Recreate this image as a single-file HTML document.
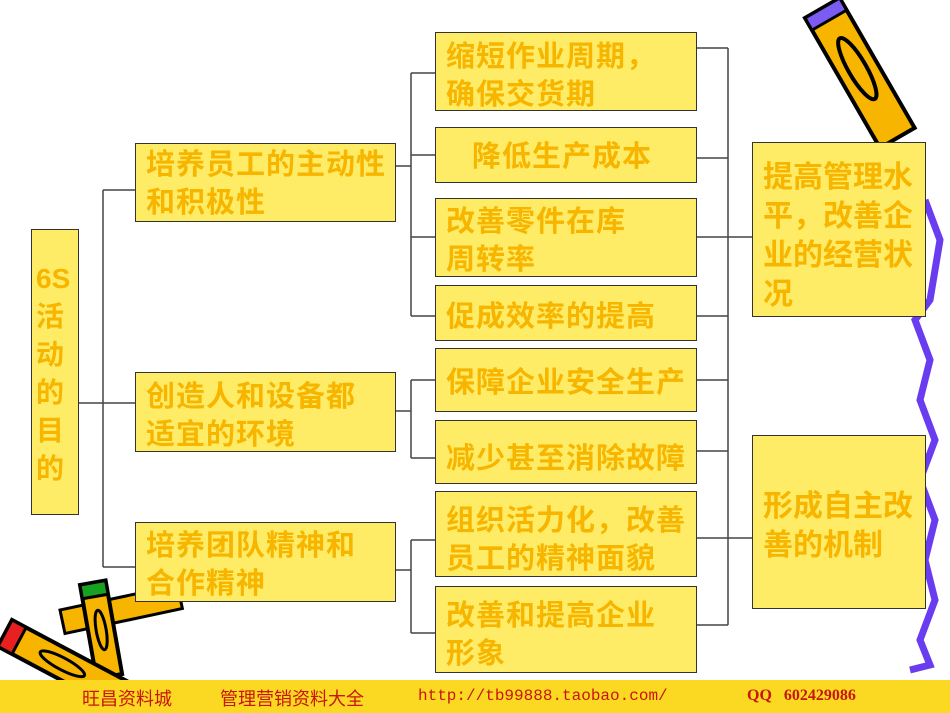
<!DOCTYPE html>
<html><head><meta charset="utf-8"><style>
body{margin:0;width:950px;height:713px;overflow:hidden;background:#fff;position:relative;font-family:"Liberation Sans","Noto Sans CJK SC",sans-serif}
.b{position:absolute;background:#ffec66;border:1.5px solid #333;box-sizing:border-box;color:#f7b500;font-weight:bold;font-size:29px;line-height:38px;padding:0 0 0 10px;font-family:"Liberation Sans","Noto Sans CJK SC",sans-serif;white-space:nowrap;overflow:visible;letter-spacing:1px}
.bar{position:absolute;left:0;top:680px;width:950px;height:33px;background:#fbd822}
.bar span{position:absolute;top:5px;color:#c8160c;font-size:18px}
</style></head><body>
<svg width="950" height="713" style="position:absolute;left:0;top:0">
<g stroke="#444" stroke-width="1.5" fill="none">
<path d="M78 403H135M103 190V567M103 190H135M103 567H135"/>
<path d="M395 166H411M411 73V316M411 73H435M411 155H435M411 237H435M411 316H435"/>
<path d="M395 411H411M411 380V458M411 380H435M411 458H435"/>
<path d="M395 570H411M411 540V633M411 540H435M411 633H435"/>
<path d="M697 48H728M697 158H728M697 237H728M697 316H728M697 380H728M697 451H728M697 538H728M697 625H728M728 48V625M728 237H752M728 538H752"/>
</g>
<path d="M925 200 L940 240 L930 300 L915 320 L930 360 L920 400 L935 440 L920 480 L935 520 L925 560 L935 600 L920 640 L930 665 L910 670" stroke="#6a3cf0" stroke-width="7" fill="none"/>
<g transform="translate(805,18) rotate(-30)">
<rect x="0" y="0" width="40" height="150" fill="#f7b500" stroke="#000" stroke-width="4"/>
<rect x="0" y="0" width="40" height="14" fill="#7a5cf0" stroke="#000" stroke-width="3"/>
<ellipse cx="20" cy="70" rx="9" ry="35" fill="none" stroke="#000" stroke-width="4"/>
</g>
<g transform="translate(60,610) rotate(-12)">
<rect x="0" y="0" width="120" height="24" fill="#f7b500" stroke="#000" stroke-width="3"/>
</g>
<g transform="translate(80,585) rotate(-10)">
<rect x="0" y="0" width="26" height="95" fill="#f7b500" stroke="#000" stroke-width="4"/>
<rect x="0" y="0" width="26" height="14" fill="#18a020" stroke="#000" stroke-width="3"/>
<ellipse cx="13" cy="48" rx="5" ry="20" fill="none" stroke="#000" stroke-width="3"/>
</g>
<g transform="translate(12,620) rotate(28)">
<rect x="0" y="0" width="130" height="30" fill="#f7b500" stroke="#000" stroke-width="4"/>
<rect x="0" y="0" width="16" height="30" fill="#e82020" stroke="#000" stroke-width="3"/>
<ellipse cx="65" cy="15" rx="25" ry="6" fill="none" stroke="#000" stroke-width="3"/>
</g>
</svg>
<div class="b" style="left:31px;top:229px;width:48px;height:286px;padding:30px 0 0 4px;font-size:28px;line-height:38px;white-space:normal;letter-spacing:0">6S<br>活<br>动<br>的<br>目<br>的</div>
<div class="b" style="left:135px;top:143px;width:261px;height:79px;padding-top:2px">培养员工的主动性<br>和积极性</div>
<div class="b" style="left:135px;top:372px;width:261px;height:80px;padding-top:5px">创造人和设备都<br>适宜的环境</div>
<div class="b" style="left:135px;top:522px;width:261px;height:80px;padding-top:4px">培养团队精神和<br>合作精神</div>
<div class="b" style="left:435px;top:32px;width:262px;height:79px;padding-top:5px">缩短作业周期，<br>确保交货期</div>
<div class="b" style="left:435px;top:127px;width:262px;height:56px;padding:10px 0 0 36px">降低生产成本</div>
<div class="b" style="left:435px;top:198px;width:262px;height:79px;padding-top:4px">改善零件在库<br>周转率</div>
<div class="b" style="left:435px;top:285px;width:262px;height:56px;padding-top:12px">促成效率的提高</div>
<div class="b" style="left:435px;top:348px;width:262px;height:64px;padding-top:15px">保障企业安全生产</div>
<div class="b" style="left:435px;top:420px;width:262px;height:64px;padding-top:19px">减少甚至消除故障</div>
<div class="b" style="left:435px;top:491px;width:262px;height:86px;padding-top:10px">组织活力化，改善<br>员工的精神面貌</div>
<div class="b" style="left:435px;top:586px;width:262px;height:87px;padding-top:10px">改善和提高企业<br>形象</div>
<div class="b" style="left:752px;top:142px;width:174px;height:175px;padding-top:15px;font-size:30px;line-height:39px;letter-spacing:0">提高管理水<br>平，改善企<br>业的经营状<br>况</div>
<div class="b" style="left:752px;top:435px;width:174px;height:174px;padding-top:51px;font-size:30px;line-height:39px;letter-spacing:0">形成自主改<br>善的机制</div>
<div class="bar">
<span style="left:82px">旺昌资料城</span>
<span style="left:220px">管理营销资料大全</span>
<span style="left:418px;font-family:'Liberation Mono',monospace;font-size:16px;top:7px">http://tb99888.taobao.com/</span>
<span style="left:747px;font-family:'Liberation Serif',serif;font-weight:bold;font-size:16px;top:7px">QQ&nbsp;&nbsp;&nbsp;602429086</span>
</div>
</body></html>
